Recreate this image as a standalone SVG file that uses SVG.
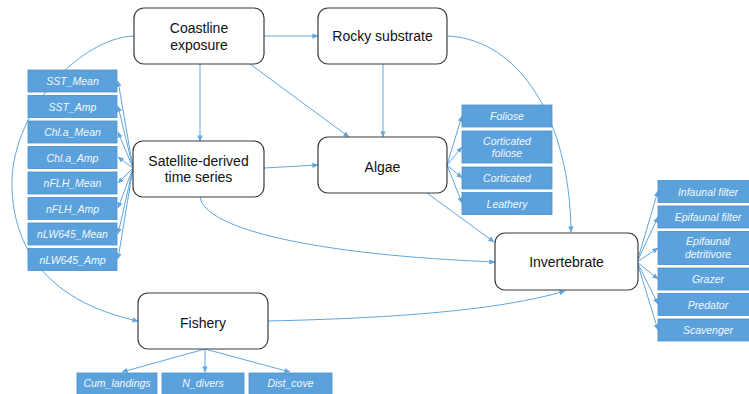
<svg xmlns="http://www.w3.org/2000/svg" width="749" height="394" viewBox="0 0 749 394">
  <defs>
    <marker id="arr" viewBox="0 0 8 8" refX="7.5" refY="4" markerWidth="6" markerHeight="6" markerUnits="userSpaceOnUse" orient="auto">
      <path d="M0,0.5 L8,4 L0,7.5 z" fill="#5ea6df"/>
    </marker>
  </defs>
  <style>
    .node rect { fill: #ffffff; stroke: #3a3a3a; stroke-width: 1.2; }
    .node text { font-family: "Liberation Sans", Arial, sans-serif; font-size: 14px; fill: #111; text-anchor: middle; }
    .var rect { fill: #5ba2dd; stroke: #4b8fca; stroke-width: 0.8; }
    .var text { font-family: "Liberation Sans", Arial, sans-serif; font-size: 10.5px; font-style: italic; fill: #f4f8fc; text-anchor: middle; }
    .edges path { fill: none; stroke: #5ea6df; stroke-width: 1; marker-end: url(#arr); }
  </style>
  <rect width="749" height="394" fill="#ffffff"/>

  <!-- connectors, drawn first so boxes sit above them -->
  <g id="connectors" class="edges">
    <path d="M264,36 L318,36"/>
    <path d="M200,64 L200,141"/>
    <path d="M250,64 L349,137"/>
    <path d="M383,64 L383,137"/>
    <path d="M448,36 C520,40 570,120 571,232"/>
    <path d="M134,36 C80,38 14,110 12,180 C11,240 40,300 138,321"/>
    <!-- satellite fan to the remote-sensing variables -->
    <path d="M133,168 L118,81"/>
    <path d="M133,168 L118,106"/>
    <path d="M133,168 L118,132"/>
    <path d="M133,168 L118,157"/>
    <path d="M133,168 L118,183"/>
    <path d="M133,168 L118,208"/>
    <path d="M133,168 L118,234"/>
    <path d="M133,168 L118,259"/>
    <path d="M264,168 L318,165"/>
    <path d="M200,197 C205,230 320,255 495,262"/>
    <path d="M427,193 L494,242"/>
    <!-- algae fan -->
    <path d="M447,165 L462,116"/>
    <path d="M447,165 L462,147"/>
    <path d="M447,165 L462,178"/>
    <path d="M447,165 L462,203"/>
    <path d="M268,321 C400,318 500,310 565,291"/>
    <!-- invertebrate fan -->
    <path d="M637,262 L658,191"/>
    <path d="M637,262 L658,217"/>
    <path d="M637,262 L658,248"/>
    <path d="M637,262 L658,279"/>
    <path d="M637,262 L658,304"/>
    <path d="M637,262 L658,330"/>
    <!-- fishery fan -->
    <path d="M205,349 L122,372"/>
    <path d="M205,349 L205,372"/>
    <path d="M205,349 L290,372"/>
  </g>

  <!-- main nodes -->
  <g id="coastline" class="node">
    <rect x="134" y="8" width="130" height="56" rx="10"/>
    <text x="199" y="33">Coastline</text>
    <text x="199" y="50">exposure</text>
  </g>
  <g id="rocky" class="node">
    <rect x="318" y="8" width="129" height="56" rx="10"/>
    <text x="382.5" y="41">Rocky substrate</text>
  </g>
  <g id="satellite" class="node">
    <rect x="133" y="141" width="131" height="56" rx="10"/>
    <text x="198.5" y="166">Satellite-derived</text>
    <text x="198.5" y="182">time series</text>
  </g>
  <g id="algae" class="node">
    <rect x="318" y="137" width="129" height="56" rx="10"/>
    <text x="382.5" y="172">Algae</text>
  </g>
  <g id="invertebrate" class="node">
    <rect x="495" y="233" width="143" height="57" rx="10"/>
    <text x="566.5" y="267">Invertebrate</text>
  </g>
  <g id="fishery" class="node">
    <rect x="138" y="293" width="130" height="56" rx="10"/>
    <text x="203" y="328">Fishery</text>
  </g>

  <!-- satellite variables -->
  <g id="sst_mean" class="var"><rect x="28" y="70" width="89" height="22"/><text x="72.5" y="85">SST_Mean</text></g>
  <g id="sst_amp" class="var"><rect x="28" y="95.5" width="89" height="22"/><text x="72.5" y="110.5">SST_Amp</text></g>
  <g id="chla_mean" class="var"><rect x="28" y="121" width="89" height="22"/><text x="72.5" y="136">Chl.a_Mean</text></g>
  <g id="chla_amp" class="var"><rect x="28" y="146.5" width="89" height="22"/><text x="72.5" y="161.5">Chl.a_Amp</text></g>
  <g id="nflh_mean" class="var"><rect x="28" y="172" width="89" height="22"/><text x="72.5" y="187">nFLH_Mean</text></g>
  <g id="nflh_amp" class="var"><rect x="28" y="197.5" width="89" height="22"/><text x="72.5" y="212.5">nFLH_Amp</text></g>
  <g id="nlw645_mean" class="var"><rect x="28" y="223" width="89" height="22"/><text x="72.5" y="238">nLW645_Mean</text></g>
  <g id="nlw645_amp" class="var"><rect x="28" y="248.5" width="89" height="22"/><text x="72.5" y="263.5">nLW645_Amp</text></g>

  <!-- algae groups -->
  <g id="foliose" class="var"><rect x="462" y="105" width="90" height="22"/><text x="507" y="120">Foliose</text></g>
  <g id="corticated_foliose" class="var"><rect x="462" y="131" width="90" height="32"/><text x="507" y="145">Corticated</text><text x="507" y="157">foliose</text></g>
  <g id="corticated" class="var"><rect x="462" y="167" width="90" height="22"/><text x="507" y="182">Corticated</text></g>
  <g id="leathery" class="var"><rect x="462" y="192.5" width="90" height="22"/><text x="507" y="207.5">Leathery</text></g>

  <!-- invertebrate groups -->
  <g id="infaunal_filter" class="var"><rect x="658" y="180.5" width="100" height="22"/><text x="708" y="195.5">Infaunal filter</text></g>
  <g id="epifaunal_filter" class="var"><rect x="658" y="206" width="100" height="22"/><text x="708" y="221">Epifaunal filter</text></g>
  <g id="epifaunal_detritivore" class="var"><rect x="658" y="231.5" width="100" height="33"/><text x="708" y="245">Epifaunal</text><text x="708" y="258">detritivore</text></g>
  <g id="grazer" class="var"><rect x="658" y="268" width="100" height="22"/><text x="708" y="283">Grazer</text></g>
  <g id="predator" class="var"><rect x="658" y="293.5" width="100" height="22"/><text x="708" y="308.5">Predator</text></g>
  <g id="scavenger" class="var"><rect x="658" y="319" width="100" height="22"/><text x="708" y="334">Scavenger</text></g>

  <!-- fishery variables -->
  <g id="cum_landings" class="var"><rect x="77" y="373" width="80" height="22"/><text x="117" y="387">Cum_landings</text></g>
  <g id="n_divers" class="var"><rect x="162" y="373" width="82" height="22"/><text x="203" y="387">N_divers</text></g>
  <g id="dist_cove" class="var"><rect x="249" y="373" width="83" height="22"/><text x="290.5" y="387">Dist_cove</text></g>
</svg>
